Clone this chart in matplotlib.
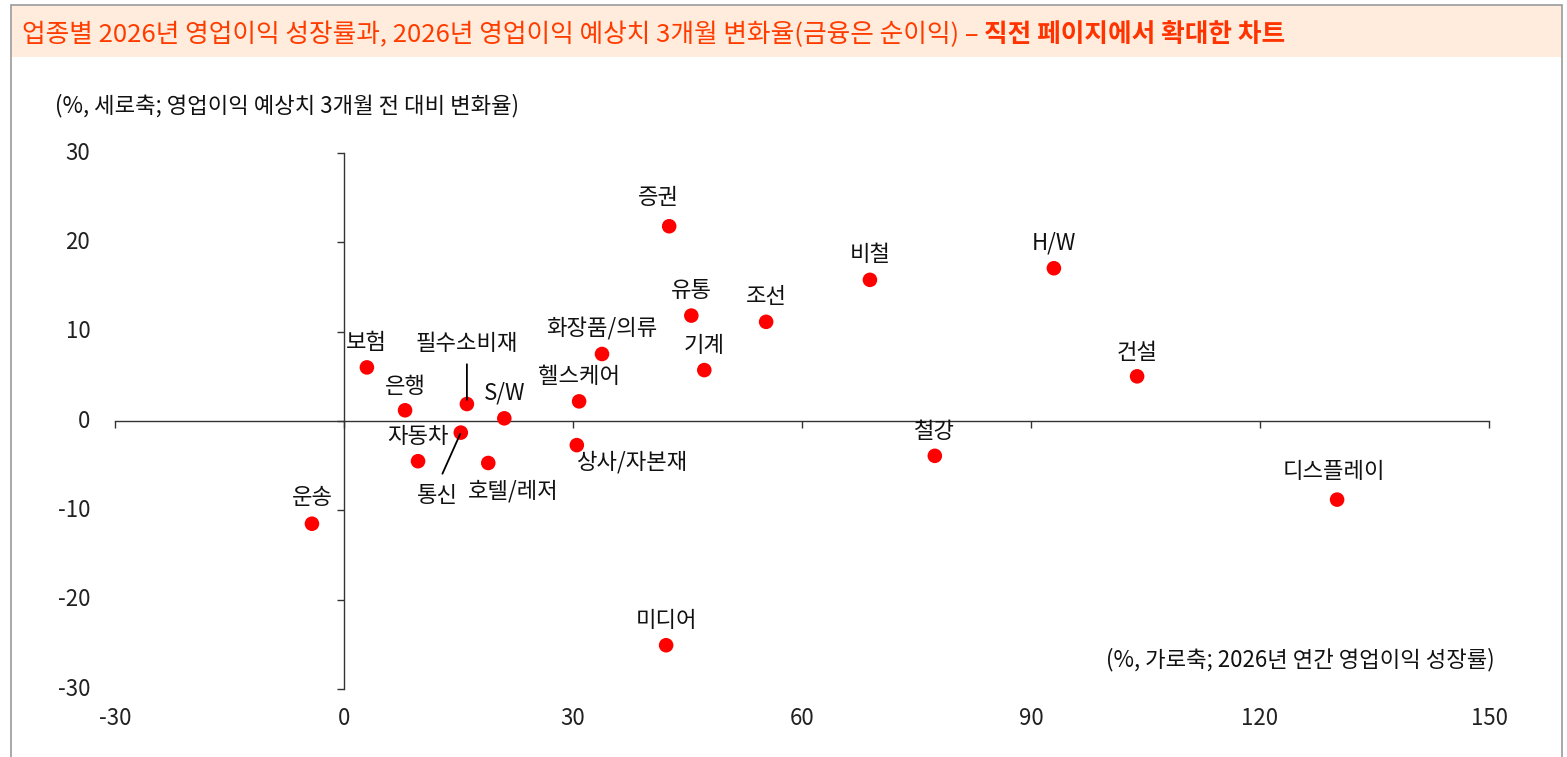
import matplotlib
matplotlib.use("Agg")
import matplotlib.pyplot as plt
from matplotlib.patches import Rectangle

plt.rcParams['font.family'] = ['Noto Sans CJK KR', 'DejaVu Sans']

# 업종별 2026년 영업이익 성장률(x)과 3개월 예상치 변화율(y)
sectors = ["운송", "보험", "은행", "자동차", "필수소비재", "통신", "호텔/레저", "S/W",
           "헬스케어", "상사/자본재", "화장품/의류", "증권", "미디어", "유통", "기계",
           "조선", "비철", "철강", "H/W", "건설", "디스플레이"]
growth = [-4.2, 3.0, 8.0, 9.7, 16.1, 15.3, 18.9, 21.0,
          30.8, 30.5, 33.8, 42.6, 42.2, 45.5, 47.2,
          55.3, 68.9, 77.4, 93.0, 103.9, 130.1]
revision = [-11.5, 6.0, 1.2, -4.5, 1.9, -1.3, -4.7, 0.3,
            2.2, -2.7, 7.5, 21.8, -25.1, 11.8, 5.7,
            11.1, 15.8, -3.9, 17.1, 5.0, -8.8]

# label offsets in pixels (dx, dy)
offsets = {"운송": (0, 26), "보험": (-1, 25), "은행": (0, 24), "자동차": (0, 25),
           "필수소비재": (0, 61), "통신": (-23, -63), "호텔/레저": (25, -28),
           "S/W": (0, 25), "헬스케어": (0, 25), "상사/자본재": (56, -17),
           "화장품/의류": (0, 26), "증권": (-11, 29), "미디어": (0, 25),
           "유통": (0, 25), "기계": (0, 25), "조선": (0, 25), "비철": (0, 25),
           "철강": (0, 24), "H/W": (0, 25), "건설": (0, 24), "디스플레이": (-3, 28)}

xticks = [-30, 0, 30, 60, 90, 120, 150]
yticks = [-30, -20, -10, 0, 10, 20, 30]

LABEL_FS = 16
TICK_FS = 16

W, H = 1567, 757
fig = plt.figure(figsize=(W / 100, H / 100), dpi=100)

# outer frame and title banner
fig.patches.append(Rectangle((11 / W, -0.01), (1562 - 11) / W, 1.01 - 5 / H,
                             transform=fig.transFigure, fill=False,
                             edgecolor="#9a9a9a", linewidth=1.2))
fig.patches.append(Rectangle((12 / W, 1 - 57 / H), (1561 - 12) / W, 51 / H,
                             transform=fig.transFigure, facecolor="#ffecdc",
                             edgecolor="none"))
title_y = 1 - 35 / H
t1 = fig.text(22 / W, title_y,
              "업종별 2026년 영업이익 성장률과, 2026년 영업이익 예상치 3개월 변화율(금융은 순이익) – ",
              color="#ff3c00", fontsize=18.5, va="center", ha="left")
fig.canvas.draw()
bb = t1.get_window_extent()
fig.text(bb.x1 / W, title_y, "직전 페이지에서 확대한 차트", color="#ff3300",
         fontsize=18.5, fontweight="bold", va="center", ha="left")

ax = fig.add_axes([115 / W, 1 - 689 / H, 1374 / W, 536 / H])
ax.set_xlim(-30, 150)
ax.set_ylim(-30, 30)
ax.patch.set_alpha(0)

for side in ["top", "right"]:
    ax.spines[side].set_visible(False)
ax.spines["left"].set_position(("data", 0))
ax.spines["bottom"].set_position(("data", 0))
for side in ["left", "bottom"]:
    ax.spines[side].set_color("#333333")
    ax.spines[side].set_linewidth(1.0)
ax.set_xticks(xticks)
ax.set_yticks(yticks)
ax.tick_params(axis="both", direction="out", length=5, width=1, color="#333333",
               labelleft=False, labelbottom=False)

# tick labels sit at the outer edges of the plot area
for v in yticks:
    ax.text(-0.018, v, str(v), transform=ax.get_yaxis_transform(),
            ha="right", va="center", fontsize=TICK_FS, color="#222222")
for v in xticks:
    ax.text(v, -0.033, str(v), transform=ax.get_xaxis_transform(),
            ha="center", va="top", fontsize=TICK_FS, color="#222222")

ax.scatter(growth, revision, s=110, color="#ff0000", edgecolors="none", zorder=3)

for name, x, y in zip(sectors, growth, revision):
    dx, dy = offsets[name]
    if name == "필수소비재":
        ax.annotate(name, (x, y), xytext=(dx, dy), textcoords="offset pixels",
                    ha="center", va="center", fontsize=LABEL_FS, color="#111111",
                    arrowprops=dict(arrowstyle="-", color="black", lw=1.3,
                                    relpos=(0.5, 0), shrinkA=5, shrinkB=3))
    elif name == "통신":
        ax.annotate(name, (x, y), xytext=(dx, dy), textcoords="offset pixels",
                    ha="center", va="center", fontsize=LABEL_FS, color="#111111",
                    arrowprops=dict(arrowstyle="-", color="black", lw=1.3,
                                    relpos=(0.5, 1), shrinkA=6, shrinkB=1))
    else:
        ax.annotate(name, (x, y), xytext=(dx, dy), textcoords="offset pixels",
                    ha="center", va="center", fontsize=LABEL_FS, color="#111111")

fig.text(55 / W, 1 - 106 / H, "(%, 세로축; 영업이익 예상치 3개월 전 대비 변화율)",
         fontsize=LABEL_FS, color="#111111", ha="left", va="center")
fig.text(1495 / W, 1 - 660 / H, "(%, 가로축; 2026년 연간 영업이익 성장률)",
         fontsize=LABEL_FS, color="#111111", ha="right", va="center")

fig.savefig("out.png", dpi=100)
